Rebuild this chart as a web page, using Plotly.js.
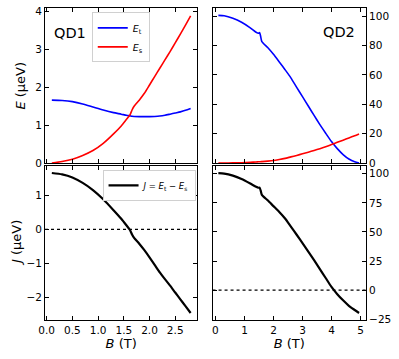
<!DOCTYPE html>
<html>
<head>
<meta charset="utf-8">
<script src="https://cdn.plot.ly/plotly-3.0.1.min.js"></script>
<style>
  html, body { margin: 0; padding: 0; background: #fff; }
  #chart { width: 399px; height: 359px; }
</style>
</head>
<body>
<div id="chart"></div>
<script>
// --- Data ---
// QD1 (left column), B in T, energies in ueV
const bQD1 = [0.1, 0.3, 0.5, 0.7, 0.9, 1.1, 1.3, 1.45, 1.55, 1.62, 1.66, 1.7, 1.8, 1.9, 2.0, 2.1, 2.2, 2.3, 2.4, 2.5, 2.6, 2.7, 2.8];
const etQD1 = [1.66, 1.65, 1.62, 1.56, 1.48, 1.40, 1.33, 1.29, 1.26, 1.245, 1.235, 1.23, 1.225, 1.225, 1.225, 1.23, 1.24, 1.26, 1.29, 1.32, 1.35, 1.39, 1.44];
const esQD1 = [0.0, 0.04, 0.10, 0.20, 0.33, 0.52, 0.77, 0.98, 1.15, 1.27, 1.40, 1.50, 1.66, 1.84, 2.06, 2.28, 2.50, 2.72, 2.94, 3.17, 3.40, 3.64, 3.88];
const jQD1  = [1.65, 1.61, 1.52, 1.36, 1.15, 0.88, 0.56, 0.31, 0.12, -0.02, -0.15, -0.25, -0.42, -0.61, -0.82, -1.04, -1.26, -1.46, -1.65, -1.85, -2.05, -2.25, -2.45];

// QD2 (right column)
const bQD2 = [0.1, 0.3, 0.6, 0.9, 1.2, 1.4, 1.48, 1.52, 1.56, 1.6, 1.8, 2.0, 2.2, 2.4, 2.6, 2.8, 3.0, 3.2, 3.4, 3.6, 3.8, 4.0, 4.2, 4.4, 4.6, 4.8, 4.95];
const etQD2 = [100.5, 100.2, 98.5, 95.8, 92.0, 89.0, 88.3, 88.8, 86.0, 82.6, 78.6, 74.0, 68.8, 63.5, 58.0, 51.5, 45.2, 38.8, 32.4, 26.2, 20.3, 14.6, 9.8, 5.8, 2.8, 0.9, 0.1];
const esQD2 = [0.0, 0.02, 0.1, 0.25, 0.5, 0.75, 0.85, 0.9, 0.95, 1.0, 1.3, 1.7, 2.4, 3.2, 4.2, 5.2, 6.3, 7.4, 8.6, 9.8, 11.1, 12.6, 14.1, 15.6, 17.1, 18.6, 19.8];
const jQD2  = [100.6, 100.2, 98.4, 95.5, 91.6, 88.8, 88.0, 88.0, 85.5, 81.9, 77.2, 72.2, 67.2, 61.6, 54.6, 47.6, 40.4, 33.1, 25.7, 18.1, 10.4, 2.7, -3.5, -8.8, -13.5, -17.1, -19.7];

const panelLabels = ['QD1', 'QD2'];
const legendNames = ['<i>E</i><sub>t</sub>', '<i>E</i><sub>s</sub>', '<i>J</i> = <i>E</i><sub>t</sub> − <i>E</i><sub>s</sub>'];

// --- Traces ---
const smooth = { shape: 'spline', smoothing: 0.6 };
const traces = [
    { x: bQD1, y: etQD1, xaxis: 'x', yaxis: 'y', mode: 'lines', name: legendNames[0], line: { color: '#0000ff', width: 1.6, ...smooth }, legend: 'legend' },
    { x: bQD1, y: esQD1, xaxis: 'x', yaxis: 'y', mode: 'lines', name: legendNames[1], line: { color: '#ff0000', width: 1.6, ...smooth }, legend: 'legend' },
    { x: bQD2, y: etQD2, xaxis: 'x2', yaxis: 'y2', mode: 'lines', line: { color: '#0000ff', width: 1.6, ...smooth }, showlegend: false },
    { x: bQD2, y: esQD2, xaxis: 'x2', yaxis: 'y2', mode: 'lines', line: { color: '#ff0000', width: 1.6, ...smooth }, showlegend: false },
    { x: bQD1, y: jQD1, xaxis: 'x3', yaxis: 'y3', mode: 'lines', name: legendNames[2], line: { color: '#000000', width: 2.2, ...smooth }, legend: 'legend2' },
    { x: bQD2, y: jQD2, xaxis: 'x4', yaxis: 'y4', mode: 'lines', line: { color: '#000000', width: 2.2, ...smooth }, showlegend: false }
];

// --- Layout ---
const axisBase = {
    showline: true, linecolor: '#000', linewidth: 1, mirror: 'allticks',
    ticks: 'inside', ticklen: 4, tickwidth: 1, tickcolor: '#000',
    showgrid: false, zeroline: false, fixedrange: true
};
const xTitleFont = { family: 'DejaVu Sans', size: 13, color: '#000' };

const layout = {
    width: 399, height: 359,
    margin: { l: 45, r: 33, t: 8, b: 39 },
    paper_bgcolor: '#fff', plot_bgcolor: '#fff',
    font: { family: 'DejaVu Sans', size: 10.5, color: '#000' },
    xaxis:  { ...axisBase, domain: [0, 0.4745], range: [-0.033, 2.93], dtick: 0.5, anchor: 'y', showticklabels: false },
    yaxis:  { ...axisBase, domain: [0.503, 1], range: [0, 4.09], dtick: 1, anchor: 'x' },
    xaxis2: { ...axisBase, domain: [0.522, 1], range: [-0.1, 5.19], dtick: 1, anchor: 'y2', showticklabels: false },
    yaxis2: { ...axisBase, domain: [0.503, 1], range: [0, 105.5], dtick: 20, anchor: 'x2', side: 'right' },
    xaxis3: { ...axisBase, domain: [0, 0.4745], range: [-0.033, 2.93], dtick: 0.5, tickformat: '.1f', anchor: 'y3',
              title: { text: '<i>B</i> (T)', font: xTitleFont, standoff: 3 } },
    yaxis3: { ...axisBase, domain: [0, 0.4936], range: [-2.655, 1.855], dtick: 1, anchor: 'x3' },
    xaxis4: { ...axisBase, domain: [0.522, 1], range: [-0.1, 5.19], dtick: 1, anchor: 'y4',
              title: { text: '<i>B</i> (T)', font: xTitleFont, standoff: 3 } },
    yaxis4: { ...axisBase, domain: [0, 0.4936], range: [-25.7, 106.7], dtick: 25, anchor: 'x4', side: 'right' },
    legend: {
        x: 0.236, y: 0.986, xanchor: 'center', yanchor: 'top',
        bgcolor: '#fff', bordercolor: '#d0d0d0', borderwidth: 1,
        font: { family: 'DejaVu Sans', size: 9.5 }
    },
    legend2: {
        x: 0.469, y: 0.481, xanchor: 'right', yanchor: 'top',
        bgcolor: '#fff', bordercolor: '#d0d0d0', borderwidth: 1,
        font: { family: 'DejaVu Sans', size: 8.5 }
    },
    shapes: [
        { type: 'line', xref: 'x3 domain', yref: 'y3', x0: 0, x1: 1, y0: 0, y1: 0, layer: 'below', line: { color: '#000', width: 1.3, dash: 'dot' } },
        { type: 'line', xref: 'x4 domain', yref: 'y4', x0: 0, x1: 1, y0: 0, y1: 0, layer: 'below', line: { color: '#000', width: 1.3, dash: 'dot' } }
    ],
    annotations: [
        { text: panelLabels[0], xref: 'x domain', yref: 'y domain', x: 0.044, y: 0.84, xanchor: 'left', yanchor: 'middle', showarrow: false, font: { size: 14.5 } },
        { text: panelLabels[1], xref: 'x2 domain', yref: 'y2 domain', x: 0.94, y: 0.848, xanchor: 'right', yanchor: 'middle', showarrow: false, font: { size: 14.5 } },
        { text: '<i>E</i> (μeV)', xref: 'paper', yref: 'paper', x: -0.075, y: 0.751, xanchor: 'center', yanchor: 'middle', textangle: -90, showarrow: false, font: { size: 13 } },
        { text: '<i>J</i> (μeV)', xref: 'paper', yref: 'paper', x: -0.087, y: 0.247, xanchor: 'center', yanchor: 'middle', textangle: -90, showarrow: false, font: { size: 13 } }
    ]
};

Plotly.newPlot('chart', traces, layout, { displayModeBar: false, staticPlot: true });
</script>
</body>
</html>
